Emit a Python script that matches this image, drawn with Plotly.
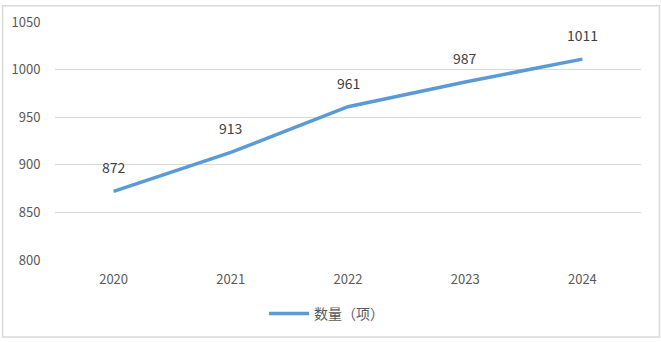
import plotly.graph_objects as go

# Annual count data
years = ["2020", "2021", "2022", "2023", "2024"]
counts = [872, 913, 961, 987, 1011]
series_name = "数量（项）"
y_ticks = [800, 850, 900, 950, 1000, 1050]

W, H = 661, 342
ML, MR, MT, MB = 54, 20, 18, 81
PW, PH = W - ML - MR, H - MT - MB

fig = go.Figure()
fig.add_trace(go.Scatter(
    x=years, y=counts, name=series_name,
    mode="lines",
    line=dict(color="#5B9BD5", width=3.5),
    cliponaxis=False,
))

# Value labels above each point (category axis positions are serial indices)
for i, v in enumerate(counts):
    fig.add_annotation(x=i, y=v, xref="x", yref="y", text=str(v), showarrow=False,
                       yshift=24, font=dict(size=14, color="#404040", family="Noto Sans CJK SC"))

# Outer light-gray frame around the whole chart
def px_x(p):
    return (p - ML) / PW

def px_y(p):
    return (H - MB - p) / PH

fig.add_shape(type="rect", xref="paper", yref="paper",
              x0=px_x(1.5), x1=px_x(659.5), y0=px_y(339.5), y1=px_y(1.5),
              line=dict(color="#D9D9D9", width=1.5), fillcolor="rgba(0,0,0,0)", layer="below")

fig.update_layout(
    width=W, height=H,
    margin=dict(l=ML, r=MR, t=MT, b=MB),
    paper_bgcolor="white", plot_bgcolor="white",
    font=dict(family="Noto Sans CJK SC", color="#595959", size=12),
    showlegend=True,
    legend=dict(orientation="h", x=px_x(326), xanchor="center", y=px_y(316), yanchor="middle",
                font=dict(size=14, color="#595959"), itemwidth=40),
    xaxis=dict(type="category", range=[-0.5, 4.5], showgrid=False, zeroline=False, showline=False,
               ticks="", ticklabelstandoff=10, tickfont=dict(size=13, color="#595959")),
    yaxis=dict(range=[800, 1050], tickvals=y_ticks, showgrid=True, gridcolor="#D9D9D9",
               gridwidth=1, zeroline=False, showline=False,
               ticks="outside", ticklen=11, tickcolor="rgba(0,0,0,0)",
               tickfont=dict(size=13, color="#595959")),
)

fig.write_html("out.html")
